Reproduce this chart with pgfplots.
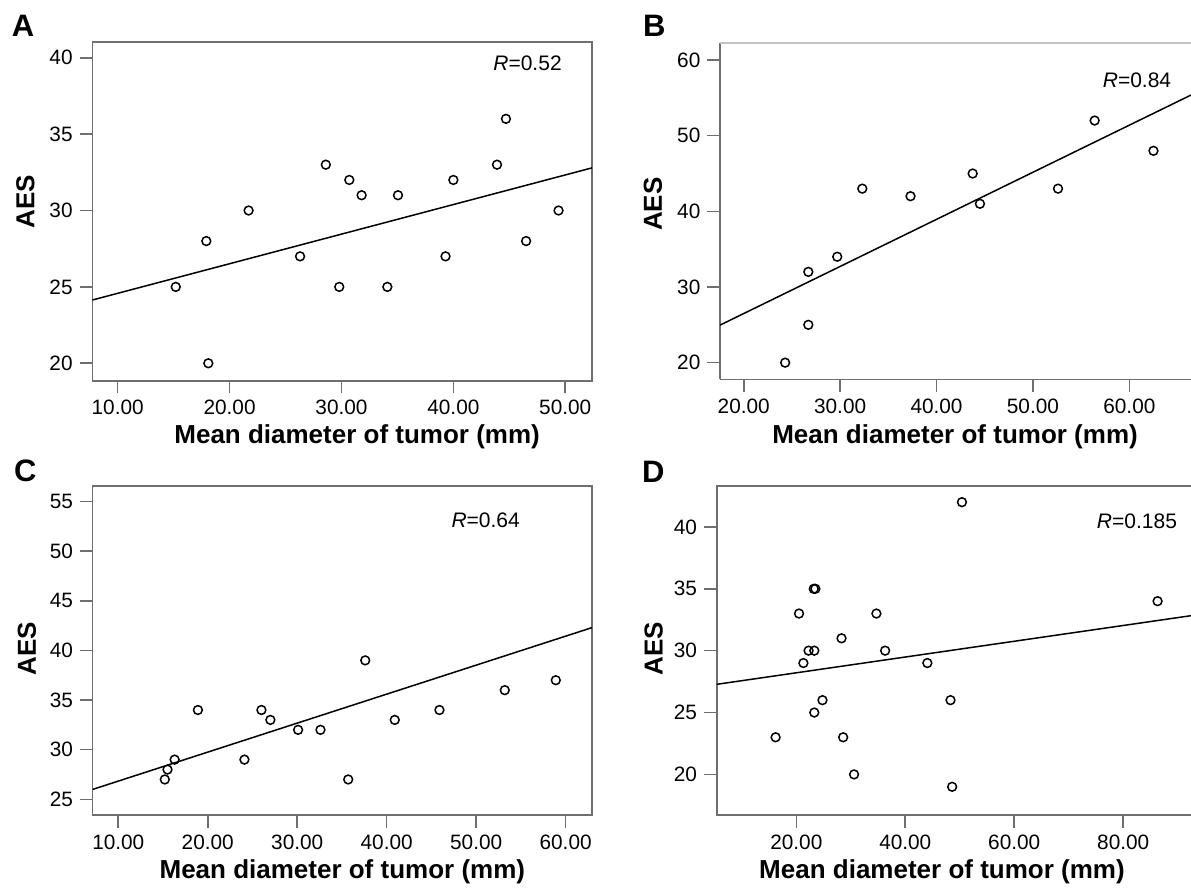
\documentclass[border=0pt]{standalone}
\usepackage{fontspec}
\setmainfont{Liberation Sans}
\usepackage{pgfplots}
\pgfplotsset{compat=1.18}
\definecolor{axgray}{HTML}{6E6E6E}
\definecolor{lgray}{HTML}{C4C4C4}
\pgfplotsset{
  panel/.style={
    scale only axis,
    anchor=north west,
    axis line style={axgray, line width=0.8pt},
    tick style={axgray, line width=0.8pt},
    major tick length=6.3pt,
    tick align=outside,
    tick pos=left,
    minor tick num=0,
    ticklabel style={font=\fontsize{10.4}{12}\selectfont, text=black},
    /pgf/number format/assume math mode=true,
    xticklabel style={/pgf/number format/fixed, /pgf/number format/fixed zerofill, /pgf/number format/precision=2},
    yticklabel style={/pgf/number format/fixed, /pgf/number format/precision=0},
    scaled ticks=false,
    xlabel={Mean diameter of tumor (mm)},
    ylabel={AES},
    label style={font=\fontsize{13}{15}\selectfont\bfseries, anchor=center},
  },
  pts/.style={only marks, mark=o, mark size=2.2pt, mark options={black, line width=0.75pt}},
  fit/.style={black, line width=0.75pt, no marks},
}
\begin{document}
\begin{tikzpicture}
% ---------------- A ----------------
\begin{axis}[panel, at={(46.15pt,-21pt)}, width=249.85pt, height=169.35pt,
  xmin=7.73, xmax=52.39, ymin=18.86, ymax=41.03,
  xtick={10,20,30,40,50}, ytick={20,25,30,35,40},
  xlabel style={at={(axis description cs:0.530,-0.166)}},
  ylabel style={at={(axis description cs:-0.1337,0.528)}}]
\addplot[pts] coordinates {
(15.19,25) (17.92,28) (18.1,20) (21.7,30) (26.3,27) (28.6,33) (29.8,25)
(30.7,32) (31.8,31) (34.1,25) (35.05,31) (39.3,27) (40.0,32) (43.9,33)
(44.7,36) (46.5,28) (49.4,30)};
\addplot[fit] coordinates {(7.73,24.14) (52.39,32.79)};
\node[font=\fontsize{10.5}{12}\selectfont, anchor=center] at (axis description cs:0.871,0.936) {\textit{R}=0.52};
\end{axis}
% ---------------- B ----------------
\begin{axis}[panel, at={(360pt,-21.5pt)}, width=236.5pt, height=168.15pt,
  axis x line*=bottom, axis y line*=left,
  xmin=17.54, xmax=66.6, ymin=17.8, ymax=62.25,
  xtick={20,30,40,50,60}, ytick={20,30,40,50,60},
  xlabel style={at={(axis description cs:0.497,-0.1716)}},
  ylabel style={at={(axis description cs:-0.1416,0.521)}}]
\draw[lgray, line width=1pt] (rel axis cs:0,1) -- (rel axis cs:1,1);
\addplot[pts] coordinates {
(24.3,20) (26.7,25) (26.7,32) (29.7,34) (32.3,43) (37.3,42) (43.75,45)
(44.5,41) (52.6,43) (56.4,52) (62.5,48)};
\addplot[fit] coordinates {(17.54,24.96) (66.6,55.5)};
\node[font=\fontsize{10.5}{12}\selectfont, anchor=center] at (axis description cs:0.8816,0.89) {\textit{R}=0.84};
\end{axis}
% ---------------- C ----------------
\begin{axis}[panel, at={(46.35pt,-242.85pt)}, width=249.65pt, height=164.65pt,
  xmin=7.14, xmax=62.95, ymin=23.42, ymax=56.6,
  xtick={10,20,30,40,50,60}, ytick={25,30,35,40,45,50,55},
  xlabel style={at={(axis description cs:0.50,-0.1716)}},
  ylabel style={at={(axis description cs:-0.1316,0.505)}}]
\addplot[pts] coordinates {
(15.2,27) (15.5,28) (16.3,29) (18.9,34) (24.1,29) (26.0,34) (27.0,33)
(30.1,32) (32.6,32) (35.7,27) (37.6,39) (40.9,33) (45.9,34) (53.2,36) (58.9,37)};
\addplot[fit] coordinates {(7.14,26.0) (62.95,42.3)};
\node[font=\fontsize{10.5}{12}\selectfont, anchor=center] at (axis description cs:0.787,0.894) {\textit{R}=0.64};
\end{axis}
% ---------------- D ----------------
\begin{axis}[panel, at={(358.35pt,-242.85pt)}, width=238.15pt, height=164.65pt,
  xmin=5.39, xmax=92.8, ymin=16.72, ymax=43.33,
  xtick={20,40,60,80}, ytick={20,25,30,35,40},
  xlabel style={at={(axis description cs:0.473,-0.1716)}},
  ylabel style={at={(axis description cs:-0.1325,0.504)}}]
\addplot[pts] coordinates {
(16.2,23) (20.5,33) (21.3,29) (22.25,30) (23.3,30) (23.2,35) (23.5,35)
(23.3,25) (24.8,26) (28.3,31) (28.6,23) (30.6,20) (34.7,33) (36.3,30)
(44.05,29) (48.3,26) (48.6,19) (50.4,42) (86.3,34)};
\addplot[fit] coordinates {(5.39,27.28) (92.8,32.85)};
\node[font=\fontsize{10.5}{12}\selectfont, anchor=center] at (axis description cs:0.8824,0.893) {\textit{R}=0.185};
\end{axis}
% panel letters
\node[anchor=base west, inner sep=0pt, font=\fontsize{15.5}{18}\selectfont\bfseries] at (5.75pt,-18.5pt) {A};
\node[anchor=base west, inner sep=0pt, font=\fontsize{15.5}{18}\selectfont\bfseries] at (321.35pt,-18.35pt) {B};
\node[anchor=base west, inner sep=0pt, font=\fontsize{15.5}{18}\selectfont\bfseries] at (6.85pt,-240.5pt) {C};
\node[anchor=base west, inner sep=0pt, font=\fontsize{15.5}{18}\selectfont\bfseries] at (320.85pt,-241pt) {D};
\pgfresetboundingbox
\useasboundingbox (0,0) rectangle (595.5pt,-444pt);
\end{tikzpicture}
\end{document}
